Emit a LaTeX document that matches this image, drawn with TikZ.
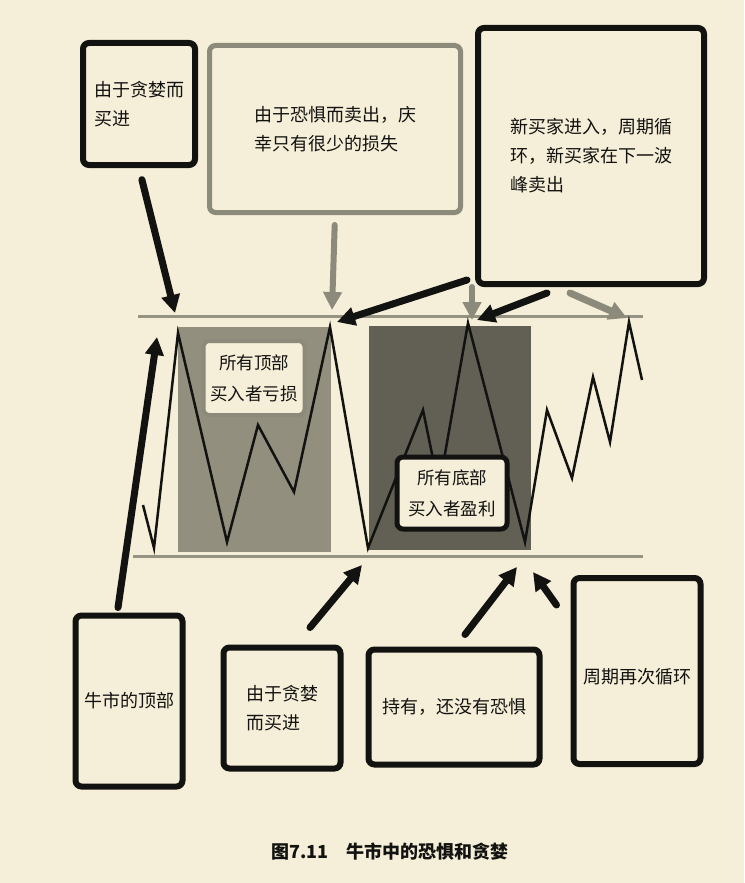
\documentclass[tikz,border=0pt]{standalone}
\usepackage{fontspec}
\setmainfont{Noto Sans CJK SC}
\usetikzlibrary{arrows.meta}

\definecolor{paper}{RGB}{245,238,216}
\definecolor{lightzone}{RGB}{146,143,127}
\definecolor{darkzone}{RGB}{98,96,85}
\definecolor{rail}{RGB}{150,147,131}
\definecolor{fadeink}{RGB}{140,138,122}
\definecolor{ink}{RGB}{18,18,16}

\def\lossbox{(178,327) rectangle (331,552)}
\def\winbox{(369,326) rectangle (531,550)}

\begin{document}
\begin{tikzpicture}[x=1pt,y=-1pt,
    note/.style={draw=ink, line width=6pt, rounded corners=6pt, fill=paper,
      text=ink, inner sep=0pt, align=left, font=\fontsize{18}{29}\selectfont},
    fadenote/.style={note, draw=fadeink},
    tag/.style={note, align=center, font=\fontsize{17.5}{31}\selectfont},
    bigarrow/.style={draw=ink, line width=7pt, line cap=round,
      -{Triangle[length=18pt,width=18pt]}},
    fadearrow/.style={bigarrow, draw=fadeink}]
    \fill[paper] (0,0) rectangle (744,883);
    \useasboundingbox (0,0) rectangle (744,883);

    %% Zones behind the price
    \fill[lightzone] \lossbox;
    \fill[darkzone] \winbox;
    \draw[rail, line width=3pt] (138,316) -- (643,316);
    \draw[rail, line width=3pt] (133,556) -- (643,556);

    %% The price
    \draw[ink, line width=2.5pt] (143,505) -- (154,548) -- (178,333) -- (227,542)
      -- (258,425) -- (294,492) -- (330,327) -- (368,548) -- (423,410)
      -- (439,488) -- (468,323) -- (525,542) -- (547,410) -- (572,478)
      -- (593,377) -- (610,442) -- (629,322) -- (642,380);

    %% Labels inside the chart
    \node[tag, draw=fadeink, line width=4pt, minimum width=101pt, minimum height=74pt]
      (toploss) at (254,378) {所有顶部\\买入者亏损};
    \node[tag, line width=5pt, minimum width=110pt, minimum height=72pt]
      (botwin) at (452,493) {所有底部\\买入者盈利};

    %% Notes above
    \node[note, minimum width=112pt, minimum height=122pt] (greed) at (139,104) {由于贪婪而\\买进};
    \node[fadenote, line width=5pt, minimum width=251pt, minimum height=167pt] (fear) at (335,129)
      {由于恐惧而卖出，庆\\幸只有很少的损失};
    \node[note, minimum width=226pt, minimum height=256pt] (newbuy) at (591,156)
      {新买家进入，周期循\\环，新买家在下一波\\峰卖出};

    %% Notes below
    \node[note, align=center, minimum width=107pt, minimum height=171pt] (bulltop) at (129,701) {牛市的顶部};
    \node[note, minimum width=117pt, minimum height=121pt] (greedbuy) at (282,708) {由于贪婪\\而买进};
    \node[note, align=center, minimum width=171pt, minimum height=115pt] (hold) at (454,707) {持有，还没有恐惧};
    \node[note, align=center, minimum width=127pt, minimum height=186pt,
      text height=29pt, text depth=4pt] (cycle) at (637,671) {周期再次循环};

    %% Where the arrows point
    \coordinate (peakA) at (175,313);
    \coordinate (peakB) at (332,310);
    \coordinate (peakBb) at (337,322);
    \coordinate (peakC) at (472,320);
    \coordinate (peakCb) at (477,320);
    \coordinate (peakD) at (627,318);
    \coordinate (riseA) at (157,337);
    \coordinate (lowA) at (362,565);
    \coordinate (lowB) at (517,567);
    \coordinate (lowBb) at (533,572);

    \draw[bigarrow, shorten <=12pt] (greed.south) -- (peakA);
    \draw[fadearrow, line width=6pt, shorten <=10pt] (fear.south) -- (peakB);
    \draw[bigarrow] ([xshift=-8pt,yshift=7pt]newbuy.south west) -- (peakBb);
    \draw[fadearrow, line width=6pt] ([xshift=-3pt]newbuy.south west) -- (peakC);
    \draw[bigarrow] ([xshift=-44pt,yshift=-6pt]newbuy.south) -- (peakCb);
    \draw[fadearrow] ([xshift=-21pt,yshift=-6pt]newbuy.south) -- (peakD);
    \draw[bigarrow] ([xshift=-11pt,yshift=5pt]bulltop.north) -- (riseA);
    \draw[bigarrow] ([xshift=28pt,yshift=17pt]greedbuy.north) -- (lowA);
    \draw[bigarrow] ([xshift=11pt,yshift=12pt]hold.north) -- (lowB);
    \draw[bigarrow] ([xshift=-14pt,yshift=-30pt]cycle.north west) -- (lowBb);

    %% Caption
    \node[text=ink, font=\fontsize{18}{20}\selectfont\bfseries] (caption) at (390,852)
      {图7.11\hspace{18pt}牛市中的恐惧和贪婪};
\end{tikzpicture}
\end{document}
